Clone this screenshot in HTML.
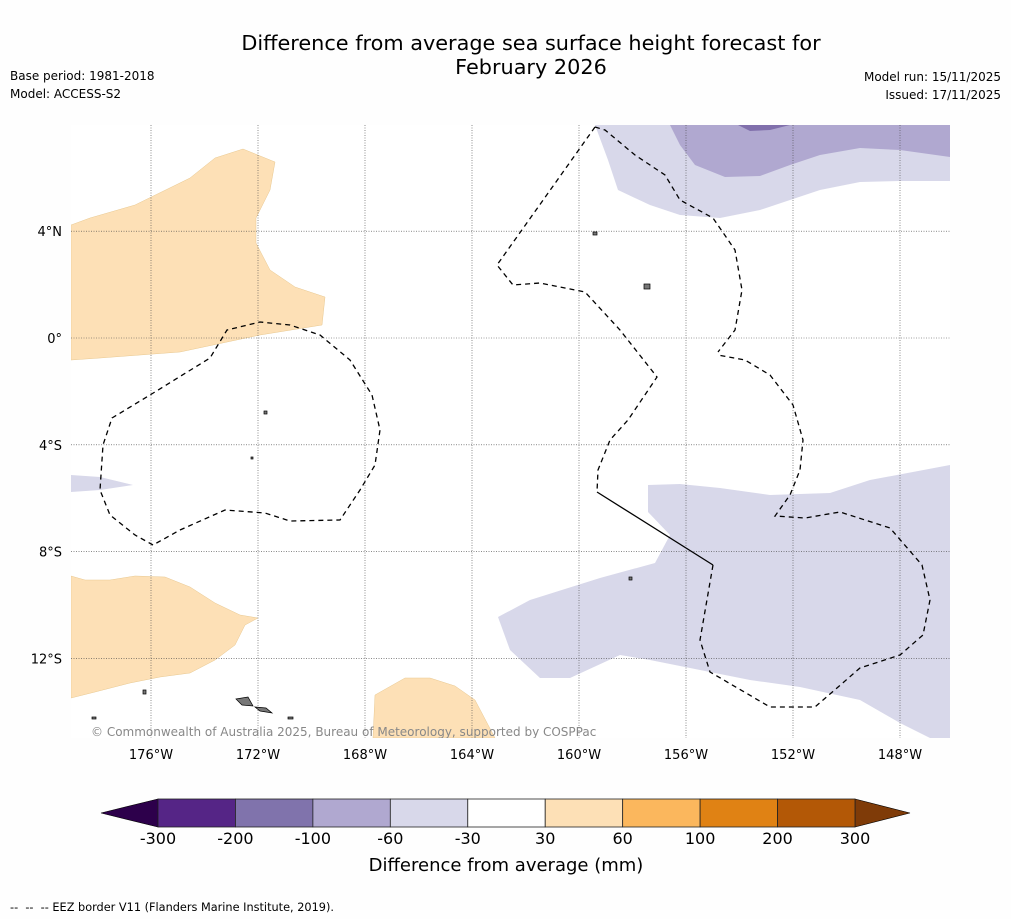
<!DOCTYPE html>
<html><head><meta charset="utf-8"><style>
body{margin:0;background:#fefefe;width:1011px;height:919px;overflow:hidden;font-family:"DejaVu Sans","Liberation Sans",sans-serif}
svg{position:absolute;left:0;top:0}
</style></head><body>
<svg width="1011" height="919" font-family="DejaVu Sans, Liberation Sans, sans-serif">
<g font-size="20.8" text-anchor="middle" fill="#000">
<text x="531" y="50">Difference from average sea surface height forecast for</text>
<text x="531" y="74">February 2026</text></g>
<g font-size="12" fill="#000">
<text x="10" y="80">Base period: 1981-2018</text><text x="10" y="98">Model: ACCESS-S2</text></g>
<g font-size="12" fill="#000" text-anchor="end">
<text x="1001" y="81">Model run: 15/11/2025</text><text x="1001" y="99">Issued: 17/11/2025</text></g>
<defs><clipPath id="mc"><rect x="71" y="125" width="879" height="613"/></clipPath></defs>
<g clip-path="url(#mc)">
<rect x="71" y="125" width="879" height="613" fill="#fff"/>
<g fill="#fde0b6" stroke="#e8c890" stroke-width="0.5">
<polygon points="71,225 90,218 135,205 190,178 215,158 243,149 275,162 270,190 256,218 256,243 270,270 295,287 325,297 322,325 260,335 180,352 100,358 71,360"/>
<polygon points="71,576 85,580 110,580 135,576 165,577 190,587 215,603 240,615 258,618 245,625 235,645 215,660 190,673 160,677 130,683 95,692 71,698"/>
<polygon points="375,695 405,678 430,678 455,686 475,700 495,738 373,738"/>
</g>
<g fill="#d8d8ea">
<polygon points="595,125 950,125 950,181 900,181 860,182 820,190 790,200 760,210 720,218 680,215 650,205 618,190 608,160"/>
<polygon points="648,485 680,484 720,488 770,495 830,493 870,480 950,465 950,738 930,738 900,723 860,700 800,687 750,680 700,670 650,660 620,655 570,678 540,678 510,650 498,617 530,600 600,578 655,563 670,535 648,512"/>
<polygon points="71,475 100,477 133,485 100,490 71,492"/>
</g>
<polygon fill="#b0a8d0" points="670,125 950,125 950,157 900,150 860,148 820,155 790,165 760,176 725,177 695,165 680,145"/>
<polygon fill="#8170ac" points="738,125 790,125 770,130 750,131"/>
<g id="grid" stroke="#444" stroke-width="0.6" stroke-dasharray="1,1.5"></g>
<g fill="none" stroke="#000" stroke-width="1.3" stroke-dasharray="5,4">
<polyline points="153,545 135,535 110,515 100,490 103,445 112,418 150,395 210,358 227,330 260,322 290,325 320,335 350,360 372,395 380,430 375,465 360,490 340,520 290,521 265,513 225,510 180,530 153,545"/>
<polyline points="595,127 605,130 635,155 665,175 680,200 713,218 735,250 742,290 735,330 718,352"/>
<polyline points="595,127 497,265 513,285 540,283 585,292 620,330 657,377 628,420 610,440 598,470 597,492"/>
<polyline points="713,565 700,640 710,672 770,707 815,707 860,668 900,655 923,635 930,600 922,565 890,528 840,512 805,518 775,516 790,495 800,470 803,440 793,405 770,375 745,360 718,355"/>
</g>
<polyline points="597,492 713,565" fill="none" stroke="#000" stroke-width="1.3"/>
<g fill="#777" stroke="#000" stroke-width="0.7">
<polygon points="236,699 248,697 253,706 242,705"/><polygon points="255,707 266,708 272,713 260,711"/>
<rect x="644" y="284" width="6" height="5"/><rect x="593" y="232" width="4" height="3"/>
<rect x="264" y="411" width="3" height="3"/><rect x="143" y="690" width="3" height="4"/>
<rect x="92" y="717" width="4" height="2"/><rect x="288" y="717" width="5" height="2"/>
<rect x="629" y="577" width="3" height="3"/><rect x="251" y="457" width="2" height="2"/>
</g>
<text x="91" y="736" font-size="12" fill="#888">© Commonwealth of Australia 2025, Bureau of Meteorology, supported by COSPPac</text>
</g>
<g id="ticks" font-size="13" fill="#000"></g>
<g id="cbar"></g>
<text x="506" y="871" font-size="18" text-anchor="middle">Difference from average (mm)</text>
<text x="10" y="911" font-size="11.3" xml:space="preserve">--  --  -- EEZ border V11 (Flanders Marine Institute, 2019).</text>
</svg>
<script>
const lonTicks=[-176,-172,-168,-164,-160,-156,-152,-148];
const latTicks=[4,0,-4,-8,-12];
const cbarLevels=[-300,-200,-100,-60,-30,30,60,100,200,300];
const cbarColors=["#552586","#8073ac","#b0a8d0","#d8d8ea","#ffffff","#fde0b6","#fbb75d","#e08214","#b35806"];
const NS="http://www.w3.org/2000/svg";
const lonX=l=>151+(l+176)*26.75, latY=l=>338-l*26.7;
const grid=document.getElementById('grid'),ticks=document.getElementById('ticks');
function mk(t,a,p){const e=document.createElementNS(NS,t);for(const k in a)e.setAttribute(k,a[k]);p.appendChild(e);return e;}
lonTicks.forEach(l=>{const x=lonX(l);
const g=mk('line',{x1:x,x2:x,y1:125,y2:738},grid);


const t=mk('text',{x:x,y:759,'text-anchor':'middle'},ticks);t.textContent=Math.abs(l)+'°W';

});
latTicks.forEach(l=>{const y=latY(l);
const g=mk('line',{x1:71,x2:950,y1:y,y2:y},grid);


const t=mk('text',{x:62,y:y+5,'text-anchor':'end'},ticks);t.textContent=l===0?'0°':Math.abs(l)+'°'+(l>0?'N':'S');

});
const cb=document.getElementById('cbar');const x0=158,x1=855,y0=799,h=28,w=(x1-x0)/cbarColors.length;
const lt=mk('polygon',{points:`101,${y0+h/2} ${x0},${y0} ${x0},${y0+h}`,fill:'#2d004b',stroke:'#000','stroke-width':0.6},cb);


const rt=mk('polygon',{points:`910,${y0+h/2} ${x1},${y0} ${x1},${y0+h}`,fill:'#7f3b08',stroke:'#000','stroke-width':0.6},cb);


cbarColors.forEach((c,i)=>{const r=mk('rect',{x:x0+i*w,y:y0,width:w,height:h,fill:c,stroke:'#222','stroke-width':0.8},cb);

});
cbarLevels.forEach((v,i)=>{const t=mk('text',{x:x0+i*w,y:844,'text-anchor':'middle','font-size':16},cb);t.textContent=v;

});
</script>
</body></html>
